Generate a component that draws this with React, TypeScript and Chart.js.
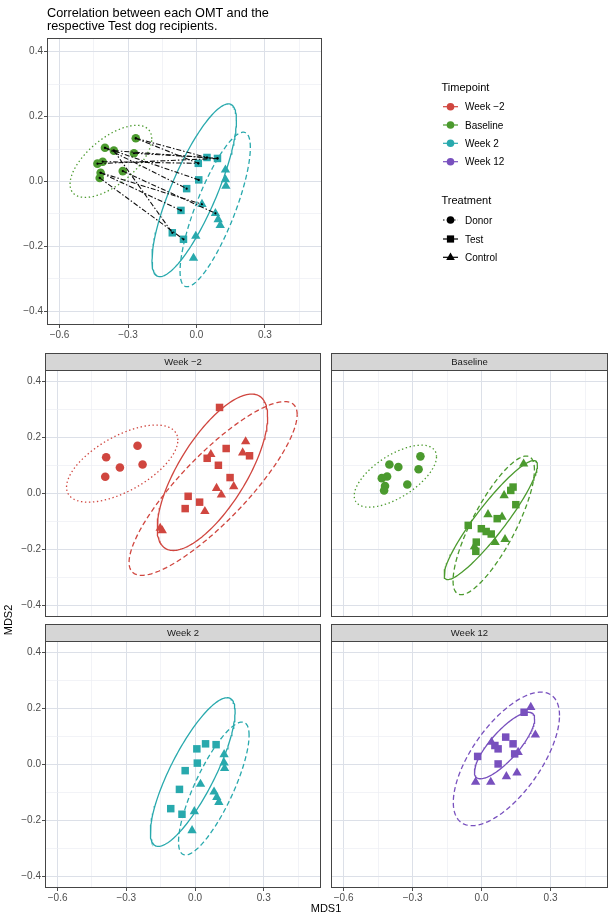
import React, { useEffect, useRef } from "react";
import { Chart, registerables } from "chart.js";

Chart.register(...registerables);

const FONT = "'Liberation Sans', Arial, Helvetica, sans-serif";

// ---------- axes ----------
const xLimits = [-0.655, 0.55];
const yLimits = [-0.442, 0.442];
const xTickValues = [-0.6, -0.45, -0.3, -0.15, 0, 0.15, 0.3, 0.45];
const xMajorTicks = [-0.6, -0.3, 0, 0.3];
const yTickValues = [-0.4, -0.3, -0.2, -0.1, 0, 0.1, 0.2, 0.3, 0.4];
const yMajorTicks = [-0.4, -0.2, 0, 0.2, 0.4];

// ---------- legend ----------
const timepoints = ["Week −2", "Baseline", "Week 2", "Week 12"];
const timepointColors = ["#D0463F", "#4B9A2E", "#28A9AD", "#7850BE"];
const treatments = ["Donor", "Test", "Control"];

// ---------- Week −2 ----------
const wm2DonorX = [-0.388, -0.392, -0.328, -0.251, -0.229];
const wm2DonorY = [0.13, 0.06, 0.093, 0.171, 0.104];
const wm2TestX = [0.107, 0.136, 0.102, 0.053, 0.153, -0.03, -0.043, 0.02, 0.238];
const wm2TestY = [0.308, 0.161, 0.101, 0.126, 0.057, -0.01, -0.054, -0.031, 0.135];
const wm2ControlX = [0.069, 0.221, 0.208, 0.094, 0.115, 0.169, 0.043, -0.152, -0.143];
const wm2ControlY = [0.14, 0.186, 0.146, 0.019, -0.005, 0.025, -0.064, -0.124, -0.133];

// ---------- Baseline ----------
const baseDonorX = [-0.266, -0.401, -0.362, -0.274, -0.411, -0.434, -0.42, -0.424, -0.323];
const baseDonorY = [0.133, 0.104, 0.095, 0.087, 0.061, 0.055, 0.027, 0.011, 0.032];
const baseTestX = [0.137, 0.127, 0.149, 0.068, -0.058, -0.001, 0.02, 0.042, -0.023, -0.025];
const baseTestY = [0.023, 0.011, -0.04, -0.09, -0.114, -0.126, -0.136, -0.145, -0.174, -0.207];
const baseControlX = [0.183, 0.098, 0.028, 0.089, 0.059, 0.102, -0.031];
const baseControlY = [0.106, -0.007, -0.075, -0.084, -0.175, -0.164, -0.19];

// ---------- Week 2 ----------
const w2TestX = [0.046, 0.092, 0.008, 0.01, -0.043, -0.068, -0.106, -0.057];
const w2TestY = [0.074, 0.071, 0.056, 0.005, -0.022, -0.089, -0.158, -0.178];
const w2ControlX = [0.127, 0.127, 0.129, 0.024, 0.083, 0.095, 0.104, -0.003, -0.013];
const w2ControlY = [0.036, 0.006, -0.014, -0.07, -0.098, -0.117, -0.135, -0.168, -0.236];

// ---------- Week 12 ----------
const w12TestX = [0.185, 0.105, 0.072, 0.137, 0.144, -0.017, 0.072, 0.058];
const w12TestY = [0.187, 0.098, 0.056, 0.074, 0.038, 0.029, 0.002, 0.068];
const w12ControlX = [0.214, 0.234, 0.043, 0.159, -0.026, 0.04, 0.108, 0.154];
const w12ControlY = [0.205, 0.106, 0.08, 0.044, -0.063, -0.063, -0.043, -0.03];

// ---------- ellipses: [centre x, centre y, half width, half height, cos(phase)] ----------
const wm2DonorEllipse = [-0.318, 0.107, 0.243, 0.138, 0.61];
const wm2TestEllipse = [0.076, 0.076, 0.241, 0.28, 0.71];
const wm2ControlEllipse = [0.079, 0.018, 0.367, 0.311, 0.85];
const baseDonorEllipse = [-0.375, 0.062, 0.179, 0.111, 0.63];
const baseTestEllipse = [0.04, -0.095, 0.203, 0.213, 0.92];
const baseControlEllipse = [0.053, -0.114, 0.177, 0.248, 0.8];
const w2TestEllipse = [-0.01, -0.027, 0.185, 0.266, 0.81];
const w2ControlEllipse = [0.082, -0.086, 0.154, 0.238, 0.8];
const w12TestEllipse = [0.1, 0.068, 0.131, 0.119, 0.8];
const w12ControlEllipse = [0.108, 0.02, 0.231, 0.239, 0.65];

// ---------- donor → Week 2 recipient links ----------
const linkDonor = [0, 0, 1, 1, 2, 2, 3, 4, 5, 8, 6, 6, 7];
const linkTargetKind = ["test", "test", "test", "test", "test", "test", "test", "test", "test", "control", "control", "test", "test"];
const linkTargetIndex = [0, 2, 3, 4, 1, 6, 0, 2, 1, 4, 3, 5, 7];

// ---------- helpers ----------
const near = (v: number, list: number[]) => list.some((m) => Math.abs(m - v) < 1e-6);
const fmt = (v: number) => (v < -1e-9 ? "−" : "") + Math.abs(v).toFixed(1);

const pts = (xs: number[], ys: number[]) => xs.map((x, i) => ({ x, y: ys[i] }));

const SHAPE: Record<string, [string, number]> = {
  Donor: ["circle", 4.3],
  Test: ["rect", 5.3],
  Control: ["triangle", 5.4],
};

function pointSet(xs: number[], ys: number[], treatment: string, color: string) {
  const [style, r] = SHAPE[treatment];
  return {
    data: pts(xs, ys),
    pointStyle: style,
    pointRadius: r,
    pointHoverRadius: r,
    pointBackgroundColor: color,
    pointBorderWidth: 0,
    showLine: false,
    order: 2,
  };
}

const DASH: Record<string, number[]> = {
  Donor: [1.4, 2.6],
  Test: [],
  Control: [5, 3],
};

function ellipseSet(p: number[], treatment: string, color: string) {
  const [cx, cy, rx, ry, c] = p;
  const phi = Math.acos(c);
  const data = [];
  for (let i = 0; i <= 160; i++) {
    const t = (i / 160) * Math.PI * 2;
    data.push({ x: cx + rx * Math.cos(t), y: cy + ry * Math.cos(t - phi) });
  }
  return {
    data,
    showLine: true,
    borderColor: color,
    borderWidth: 1.3,
    borderDash: DASH[treatment],
    pointRadius: 0,
    pointHoverRadius: 0,
    fill: false,
    tension: 0,
    order: 3,
  };
}

function linkSets() {
  return linkDonor.map((d, i) => {
    const k = linkTargetIndex[i];
    const tx = linkTargetKind[i] === "test" ? w2TestX[k] : w2ControlX[k];
    const ty = linkTargetKind[i] === "test" ? w2TestY[k] : w2ControlY[k];
    return {
      data: [
        { x: baseDonorX[d], y: baseDonorY[d] },
        { x: tx, y: ty },
      ],
      showLine: true,
      borderColor: "#111111",
      borderWidth: 1.1,
      borderDash: [5, 2, 1.5, 2],
      pointRadius: 1.1,
      pointHoverRadius: 1.1,
      pointBackgroundColor: "#000000",
      pointBorderWidth: 0,
      order: 0,
    };
  });
}

const [RED, GREEN, TEAL, PURPLE] = timepointColors;

const panelBorder = {
  id: "panelBorder",
  afterDatasetsDraw(chart: any) {
    const { ctx, chartArea } = chart;
    const { left, top, right, bottom } = chartArea;
    ctx.save();
    ctx.strokeStyle = "#454545";
    ctx.lineWidth = 1;
    ctx.strokeRect(left + 0.5, top + 0.5, right - left - 1, bottom - top - 1);
    ctx.restore();
  },
};

type Spec = {
  x0: number;
  y0: number;
  x1: number;
  y1: number;
  showX: boolean;
  showY: boolean;
  datasets: () => any[];
};

function geometry(s: Spec) {
  const left = s.showY ? 0 : s.x0 - 2;
  const L = s.x0 - left;
  const top = s.y0 - 2;
  const B = s.showX ? 17 : 2;
  const w = s.x1 + 2 - left;
  const h = s.y1 - top + B;
  return { left, top, w, h, L, B };
}

function scaleOptions(axis: "x" | "y", show: boolean, size: number) {
  const values = axis === "x" ? xTickValues : yTickValues;
  const majors = axis === "x" ? xMajorTicks : yMajorTicks;
  const lim = axis === "x" ? xLimits : yLimits;
  return {
    type: "linear",
    position: axis === "x" ? "bottom" : "left",
    min: lim[0],
    max: lim[1],
    afterBuildTicks: (sc: any) => {
      sc.ticks = values.map((v) => ({ value: v }));
    },
    afterFit: (sc: any) => {
      if (axis === "x") sc.height = size;
      else sc.width = size;
      sc.paddingTop = 0;
      sc.paddingBottom = 0;
      sc.paddingLeft = 0;
      sc.paddingRight = 0;
    },
    border: { display: false },
    grid: {
      color: (c: any) => (c.tick && near(c.tick.value, majors) ? "#DCE0E8" : "#ECEEF3"),
      lineWidth: (c: any) => (c.tick && near(c.tick.value, majors) ? 1 : 0.7),
      drawTicks: show,
      tickLength: 3,
      tickWidth: 1,
      tickColor: (c: any) => (c.tick && near(c.tick.value, majors) ? "#4D4D4D" : "rgba(0,0,0,0)"),
    },
    ticks: {
      display: show,
      autoSkip: false,
      maxRotation: 0,
      minRotation: 0,
      padding: 1,
      color: "#4D4D4D",
      font: { size: 10, family: FONT },
      callback: (v: any) => (near(Number(v), majors) ? fmt(Number(v)) : ""),
    },
  };
}

function Panel({ spec }: { spec: Spec }) {
  const ref = useRef<HTMLCanvasElement | null>(null);
  const g = geometry(spec);
  useEffect(() => {
    if (!ref.current) return;
    const chart = new Chart(ref.current, {
      type: "scatter",
      data: { datasets: spec.datasets() },
      plugins: [panelBorder],
      options: {
        responsive: false,
        maintainAspectRatio: false,
        animation: false,
        events: [],
        layout: { autoPadding: false, padding: { left: 0, top: 2, right: 2, bottom: 0 } },
        plugins: { legend: { display: false }, tooltip: { enabled: false } },
        scales: {
          x: scaleOptions("x", spec.showX, g.B),
          y: scaleOptions("y", spec.showY, g.L),
        },
      } as any,
    } as any);
    return () => chart.destroy();
  }, []);
  return (
    <canvas
      ref={ref}
      width={g.w}
      height={g.h}
      style={{ position: "absolute", left: g.left, top: g.top, width: g.w, height: g.h }}
    />
  );
}

const topSpec: Spec = {
  x0: 47,
  y0: 38,
  x1: 322,
  y1: 325,
  showX: true,
  showY: true,
  datasets: () => [
    ...linkSets(),
    pointSet(baseDonorX, baseDonorY, "Donor", GREEN),
    pointSet(w2TestX, w2TestY, "Test", TEAL),
    pointSet(w2ControlX, w2ControlY, "Control", TEAL),
    ellipseSet(baseDonorEllipse, "Donor", GREEN),
    ellipseSet(w2TestEllipse, "Test", TEAL),
    ellipseSet(w2ControlEllipse, "Control", TEAL),
  ],
};

const facetSpecs: (Spec & { label: string })[] = [
  {
    label: timepoints[0],
    x0: 45,
    y0: 370,
    x1: 321,
    y1: 617,
    showX: false,
    showY: true,
    datasets: () => [
      pointSet(wm2DonorX, wm2DonorY, "Donor", RED),
      pointSet(wm2TestX, wm2TestY, "Test", RED),
      pointSet(wm2ControlX, wm2ControlY, "Control", RED),
      ellipseSet(wm2DonorEllipse, "Donor", RED),
      ellipseSet(wm2TestEllipse, "Test", RED),
      ellipseSet(wm2ControlEllipse, "Control", RED),
    ],
  },
  {
    label: timepoints[1],
    x0: 331,
    y0: 370,
    x1: 608,
    y1: 617,
    showX: false,
    showY: false,
    datasets: () => [
      pointSet(baseDonorX, baseDonorY, "Donor", GREEN),
      pointSet(baseTestX, baseTestY, "Test", GREEN),
      pointSet(baseControlX, baseControlY, "Control", GREEN),
      ellipseSet(baseDonorEllipse, "Donor", GREEN),
      ellipseSet(baseTestEllipse, "Test", GREEN),
      ellipseSet(baseControlEllipse, "Control", GREEN),
    ],
  },
  {
    label: timepoints[2],
    x0: 45,
    y0: 641,
    x1: 321,
    y1: 888,
    showX: true,
    showY: true,
    datasets: () => [
      pointSet(w2TestX, w2TestY, "Test", TEAL),
      pointSet(w2ControlX, w2ControlY, "Control", TEAL),
      ellipseSet(w2TestEllipse, "Test", TEAL),
      ellipseSet(w2ControlEllipse, "Control", TEAL),
    ],
  },
  {
    label: timepoints[3],
    x0: 331,
    y0: 641,
    x1: 608,
    y1: 888,
    showX: true,
    showY: false,
    datasets: () => [
      pointSet(w12TestX, w12TestY, "Test", PURPLE),
      pointSet(w12ControlX, w12ControlY, "Control", PURPLE),
      ellipseSet(w12TestEllipse, "Test", PURPLE),
      ellipseSet(w12ControlEllipse, "Control", PURPLE),
    ],
  },
];

function KeyShape({ kind, cx, cy, color }: { kind: string; cx: number; cy: number; color: string }) {
  if (kind === "Test") return <rect x={cx - 3.6} y={cy - 3.6} width={7.2} height={7.2} fill={color} />;
  if (kind === "Control")
    return <polygon points={`${cx},${cy - 4.8} ${cx + 4.3},${cy + 2.6} ${cx - 4.3},${cy + 2.6}`} fill={color} />;
  return <circle cx={cx} cy={cy} r={3.8} fill={color} />;
}

function Overlay() {
  const tpY = [106.7, 125, 143.3, 161.7];
  const trY = [220, 239, 257.3];
  return (
    <svg
      width={614}
      height={919}
      style={{ position: "absolute", left: 0, top: 0, pointerEvents: "none" }}
      fontFamily={FONT}
    >
      <text x={47} y={16.5} fontSize={12.7} fill="#000">
        Correlation between each OMT and the
      </text>
      <text x={47} y={30} fontSize={12.7} fill="#000">
        respective Test dog recipients.
      </text>

      <text x={441.5} y={91} fontSize={11} fill="#000">
        Timepoint
      </text>
      {timepoints.map((t, i) => (
        <g key={t}>
          <line x1={443} x2={458} y1={tpY[i]} y2={tpY[i]} stroke={timepointColors[i]} strokeWidth={1.2} />
          <circle cx={450.5} cy={tpY[i]} r={3.8} fill={timepointColors[i]} />
          <text x={465} y={tpY[i] + 3.5} fontSize={10} fill="#000">
            {t}
          </text>
        </g>
      ))}
      <text x={441.5} y={204} fontSize={11} fill="#000">
        Treatment
      </text>
      {treatments.map((t, i) => (
        <g key={t}>
          <line
            x1={443}
            x2={458}
            y1={trY[i]}
            y2={trY[i]}
            stroke="#000"
            strokeWidth={1.2}
            strokeDasharray={t === "Donor" ? "1.5 2.2" : undefined}
          />
          <KeyShape kind={t} cx={450.5} cy={trY[i]} color="#000" />
          <text x={465} y={trY[i] + 3.5} fontSize={10} fill="#000">
            {t}
          </text>
        </g>
      ))}

      {facetSpecs.map((f) => {
        const sTop = f.y0 - 17;
        return (
          <g key={f.label}>
            <rect
              x={f.x0 + 0.5}
              y={sTop + 0.5}
              width={f.x1 - f.x0 - 1}
              height={17}
              fill="#D6D6D6"
              stroke="#454545"
              strokeWidth={1}
            />
            <text x={(f.x0 + f.x1) / 2} y={sTop + 12} fontSize={9.5} fill="#1A1A1A" textAnchor="middle">
              {f.label}
            </text>
          </g>
        );
      })}

      <text x={326} y={912} fontSize={11} fill="#000" textAnchor="middle">
        MDS1
      </text>
      <text x={12} y={620} fontSize={11} fill="#000" textAnchor="middle" transform="rotate(-90 12 620)">
        MDS2
      </text>
    </svg>
  );
}

export default function App() {
  return (
    <div
      style={{
        position: "fixed",
        left: 0,
        top: 0,
        width: 614,
        height: 919,
        background: "#ffffff",
        overflow: "hidden",
      }}
    >
      <Panel spec={topSpec} />
      {facetSpecs.map((f) => (
        <Panel key={f.label} spec={f} />
      ))}
      <Overlay />
    </div>
  );
}
